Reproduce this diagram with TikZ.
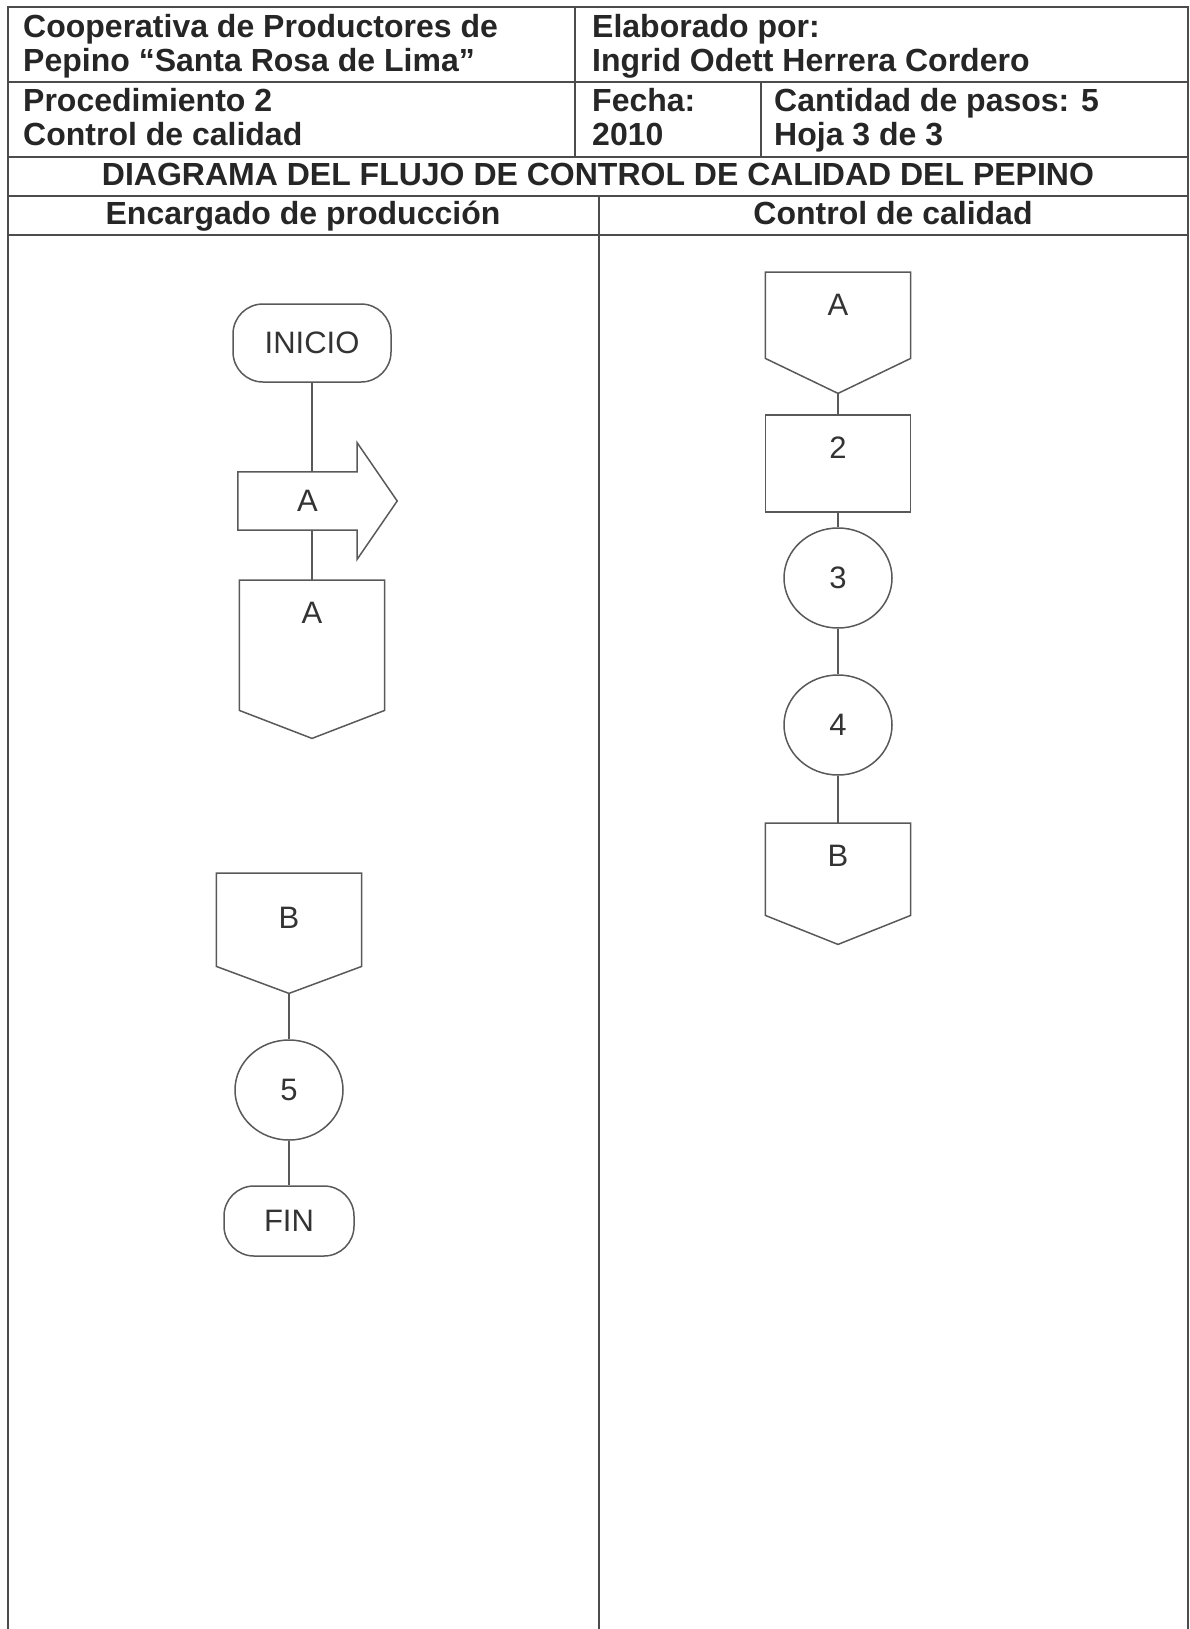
\documentclass[tikz,border=0pt]{standalone}
\usepackage{fontspec}
\setmainfont{Liberation Sans}
\usetikzlibrary{positioning,shapes.geometric}

\tikzset{
  rejilla/.style={draw=black!70, line width=1.8pt},
  linea/.style={draw=black!65, line width=1.5pt},
  cab/.style={font=\fontsize{32}{38}\selectfont\bfseries, text=black!85, inner sep=0pt, text height=23pt, text depth=7pt},
  figtxt/.style={font=\fontsize{31}{37}\selectfont, text=black!80},
  terminal/.style={figtxt, linea, rectangle, rounded corners=30pt, minimum width=158pt, minimum height=78pt},
  flecha/.style={figtxt, rectangle, minimum width=119pt, minimum height=58pt, inner sep=0pt},
  conector/.style={figtxt, rectangle, minimum width=145pt, inner xsep=0pt, inner ysep=0pt, text height=43pt, anchor=north},
  proceso/.style={figtxt, linea, rectangle, minimum width=145pt, inner ysep=0pt, text height=44pt, text depth=53pt, anchor=north},
  circulo/.style={figtxt, linea, ellipse, minimum width=108pt, minimum height=100pt, inner sep=0pt}
}

\begin{document}
\begin{tikzpicture}[x=1pt,y=-1pt]
\useasboundingbox (0,0) rectangle (1190,1629);

% marco y lineas de la tabla
\draw[rejilla] (8,1629) -- (8,7) -- (1188,7) -- (1188,1629);
\foreach \y in {82,157,196,235} \draw[rejilla] (8,\y) -- (1188,\y);
\draw[rejilla] (575,7) -- (575,157);
\draw[rejilla] (761,82) -- (761,157);
\draw[rejilla] (599,196) -- (599,1629);

% encabezado
\node[cab, anchor=west] (coop1) at (23,30) {Cooperativa de Productores de};
\node[cab, anchor=west] (coop2) at (23,64) {Pepino “Santa Rosa de Lima”};
\node[cab, anchor=west] (elab1) at (592,30) {Elaborado por:};
\node[cab, anchor=west] (elab2) at (592,64) {Ingrid Odett Herrera Cordero};
\node[cab, anchor=west] (proc1) at (23,104) {Procedimiento 2};
\node[cab, anchor=west] (proc2) at (23,138) {Control de calidad};
\node[cab, anchor=west] (fecha1) at (592,104) {Fecha:};
\node[cab, anchor=west] (fecha2) at (592,138) {2010};
\node[cab, anchor=west] (pasos) at (774,104) {Cantidad de pasos: 5};
\node[cab, anchor=west] (hoja) at (774,138) {Hoja 3 de 3};
\node[cab] (titulo) at (598,178) {DIAGRAMA DEL FLUJO DE CONTROL DE CALIDAD DEL PEPINO};
\node[cab] (carril1) at (303,217) {Encargado de producción};
\node[cab] (carril2) at (893,217) {Control de calidad};

% carril izquierdo
\node[terminal] (inicio) at (312,343) {INICIO};
\node[flecha] (salA) at (297.5,501) {\hspace*{20pt}A};
\node[conector, text depth=87pt] (entA) at (312,580) {A};
\node[conector, text height=55pt, text depth=38pt] (entB) at (289,873) {B};
\node[circulo] (paso5) at (289,1090) {5};
\node[terminal, minimum width=130pt, minimum height=70pt] (fin) at (289,1221) {FIN};

% carril derecho
\node[conector, text depth=43pt] (entA2) at (838,272) {A};
\node[proceso] (paso2) at (838,414) {2};
\node[circulo] (paso3) at (838,578) {3};
\node[circulo] (paso4) at (838,725) {4};
\node[conector, text depth=49pt] (salB) at (838,823) {B};

% flecha de salida hacia el otro carril
\draw[linea] (salA.north west) -- (salA.north east) -- ([yshift=29pt]salA.north east)
  -- ([xshift=40pt]salA.east) -- ([yshift=-29pt]salA.south east) -- (salA.south east)
  -- (salA.south west) -- cycle;

% conectores de pagina (pentagonos)
\foreach \n/\p in {entA/28pt, entB/27pt, entA2/35pt, salB/29pt} {
  \coordinate (\n-pico) at ([yshift=-\p]\n.south);
  \draw[linea] (\n.north west) -- (\n.north east) -- (\n.south east) -- (\n-pico) -- (\n.south west) -- cycle;
}

% lineas de flujo
\draw[linea] (inicio.south) -- (inicio.south |- salA.north);
\draw[linea] (inicio.south |- salA.south) -- (entA.north);
\draw[linea] (entB-pico) -- (paso5.north);
\draw[linea] (paso5.south) -- (fin.north);
\draw[linea] (entA2-pico) -- (paso2.north);
\draw[linea] (paso2.south) -- (paso3.north);
\draw[linea] (paso3.south) -- (paso4.north);
\draw[linea] (paso4.south) -- (salB.north);
\end{tikzpicture}
\end{document}
